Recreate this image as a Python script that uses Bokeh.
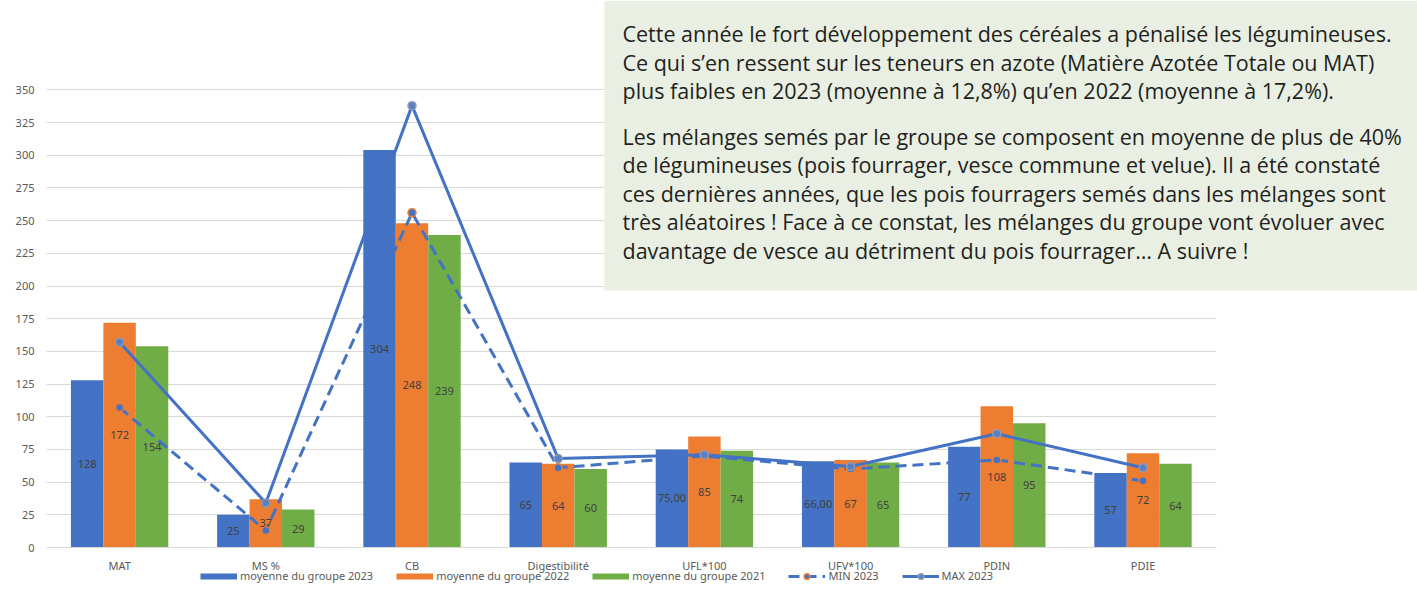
from bokeh.plotting import figure
from bokeh.models import (Range1d, FixedTicker, ColumnDataSource, BoxAnnotation, Label, Legend,
                          LegendItem, LinearAxis)
from bokeh.transform import dodge
from bokeh.embed import file_html
from bokeh.resources import INLINE
from bokeh.core.properties import value

# ---------------- data ----------------
categories = ["MAT", "MS %", "CB", "Digestibilité", "UFL*100", "UFV*100", "PDIN", "PDIE"]
moy_2023 = [128, 25, 304, 65, 75, 66, 77, 57]
moy_2022 = [172, 37, 248, 64, 85, 67, 108, 72]
moy_2021 = [154, 29, 239, 60, 74, 65, 95, 64]
labels_2023 = ["128", "25", "304", "65", "75,00", "66,00", "77", "57"]
labels_2022 = ["172", "37", "248", "64", "85", "67", "108", "72"]
labels_2021 = ["154", "29", "239", "60", "74", "65", "95", "64"]
min_2023 = [107, 13, 256, 61, 70, 60, 67, 51]
max_2023 = [157, 34, 338, 68, 71, 62, 87, 61]
y_ticks = [0, 25, 50, 75, 100, 125, 150, 175, 200, 225, 250, 275, 300, 325, 350]
series_names = ["moyenne du groupe 2023", "moyenne du groupe 2022", "moyenne du groupe 2021", "MIN 2023", "MAX 2023"]
note_lines = [
    "Cette année le fort développement des céréales a pénalisé les légumineuses.",
    "Ce qui s’en ressent sur les teneurs en azote (Matière Azotée Totale ou MAT)",
    "plus faibles en 2023 (moyenne à 12,8%) qu’en 2022 (moyenne à 17,2%).",
    "Les mélanges semés par le groupe se composent en moyenne de plus de 40%",
    "de légumineuses (pois fourrager, vesce commune et velue).  Il a été constaté",
    "ces dernières années, que les pois fourragers semés dans les mélanges sont",
    "très aléatoires ! Face à ce constat, les mélanges du groupe vont évoluer avec",
    "davantage de vesce au détriment du pois fourrager… A suivre !",
]

# ---------------- styling / layout ----------------
BLUE, ORANGE, GREEN = "#4472C4", "#ED7D31", "#70AD47"
FONT = "Noto Sans"
W, H = 1417, 607
ML = 46          # frame left (px)
MB = 24          # bottom panel (x-axis labels)
Y0 = 547         # pixel row of value 0
XS = 146.2       # px per category
YS = 1.3073      # px per unit
FB = H - MB      # frame bottom row
XMAX = (W - ML) / XS
BW = 0.222


def dx(px):  # picture pixel -> data x
    return (px - ML) / XS


def dy(py):  # picture pixel -> data y
    return (Y0 - py) / YS


xs = [i + 0.5 for i in range(len(categories))]
src = ColumnDataSource(dict(
    x=xs, a=moy_2023, b=moy_2022, c=moy_2021,
    ha=[v / 2 for v in moy_2023], hb=[v / 2 for v in moy_2022], hc=[v / 2 for v in moy_2021],
    la=labels_2023, lb=labels_2022, lc=labels_2021,
    mn=min_2023, mx=max_2023,
))

p = figure(width=W, height=H, x_range=Range1d(0, XMAX), y_range=Range1d(dy(FB), dy(0)),
           output_backend="svg", toolbar_location=None, x_axis_location=None,
           min_border_left=ML, min_border_right=0, min_border_top=0, min_border_bottom=MB)
p.outline_line_color = None
p.background_fill_color = "white"

# x axis drawn at value 0
xaxis = LinearAxis(fixed_location=0, ticker=FixedTicker(ticks=xs),
                   major_label_overrides={x: c for x, c in zip(xs, categories)},
                   bounds=(0, len(categories)), axis_line_color="#D9D9D9",
                   major_tick_line_color=None, minor_tick_line_color=None,
                   major_tick_out=0, major_tick_in=0, minor_tick_out=0,
                   major_label_text_font=FONT, major_label_text_font_size="11px",
                   major_label_text_color="#595959", major_label_standoff=10)
p.add_layout(xaxis, "below")

p.yaxis.ticker = FixedTicker(ticks=y_ticks)
p.yaxis.axis_line_color = None
p.yaxis.major_tick_line_color = None
p.yaxis.minor_tick_line_color = None
p.yaxis.major_tick_out = 0
p.yaxis.minor_tick_out = 0
p.yaxis.major_label_text_font = FONT
p.yaxis.major_label_text_font_size = "11px"
p.yaxis.major_label_text_color = "#595959"
p.yaxis.major_label_standoff = 12

p.xgrid.grid_line_color = None
p.ygrid.ticker = FixedTicker(ticks=y_ticks)
p.ygrid.grid_line_color = "#D9D9D9"
p.ygrid.grid_line_width = 1

# mask grid lines to the right of the plot area
p.add_layout(BoxAnnotation(left=len(categories), top=dy(290), fill_color="white", fill_alpha=1,
                           line_color=None, level="underlay"))

# bars
p.vbar(x=dodge("x", -BW, range=p.x_range), top="a", width=BW, source=src, fill_color=BLUE, line_color=None)
p.vbar(x="x", top="b", width=BW, source=src, fill_color=ORANGE, line_color=None)
p.vbar(x=dodge("x", BW, range=p.x_range), top="c", width=BW, source=src, fill_color=GREEN, line_color=None)

# lines
r_min_l = p.line("x", "mn", source=src, line_color=BLUE, line_width=3, line_dash="11 6")
r_min_s = p.scatter("x", "mn", source=src, size=8, fill_color=BLUE, line_color=ORANGE, line_width=1.5)
r_max_l = p.line("x", "mx", source=src, line_color=BLUE, line_width=3)
r_max_s = p.scatter("x", "mx", source=src, size=8, fill_color="#5B7FC0", line_color="#8C9BB5", line_width=1.5)

# data labels
for xcol, ycol, lcol in [(dodge("x", -BW, range=p.x_range), "ha", "la"), ("x", "hb", "lb"),
                         (dodge("x", BW, range=p.x_range), "hc", "lc")]:
    p.text(x=xcol, y=ycol, text=lcol, source=src, text_font=value(FONT), text_font_size="11px",
           text_color="#404040", text_align="center", text_baseline="middle")

# legend swatches for the bar series (thin bands, as in the original legend)
nan = float("nan")
d_a = p.line([0, 0], [nan, nan], line_color=BLUE, line_width=6, line_cap="butt")
d_b = p.line([0, 0], [nan, nan], line_color=ORANGE, line_width=6, line_cap="butt")
d_c = p.line([0, 0], [nan, nan], line_color=GREEN, line_width=6, line_cap="butt")
legend = Legend(items=[
    LegendItem(label=series_names[0], renderers=[d_a]),
    LegendItem(label=series_names[1], renderers=[d_b]),
    LegendItem(label=series_names[2], renderers=[d_c]),
    LegendItem(label=series_names[3], renderers=[r_min_l, r_min_s]),
    LegendItem(label=series_names[4], renderers=[r_max_l, r_max_s]),
], orientation="horizontal", location=(200 - ML, 0), glyph_width=37, glyph_height=14,
    label_standoff=3, spacing=23, padding=0, margin=0, border_line_color=None,
    background_fill_alpha=0, label_text_font=FONT, label_text_font_size="11px",
    label_text_color="#595959")
p.add_layout(legend, "center")

# text box
p.add_layout(BoxAnnotation(left=dx(604), bottom=dy(290), fill_color="#E9F0E3", fill_alpha=1,
                           line_color=None, level="annotation"))
line_y = [33, 62, 90, 136, 164, 193, 221, 250]
for t, yy in zip(note_lines, line_y):
    p.add_layout(Label(x=dx(622), y=dy(yy), text=t, text_font="Open Sans", text_font_size="21.5px",
                       text_color="#231F20", text_baseline="middle", text_align="left"))

open("out.html", "w").write(file_html(p, INLINE))
